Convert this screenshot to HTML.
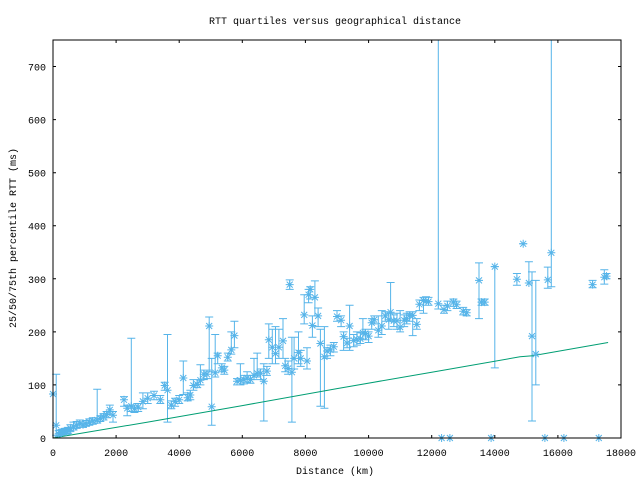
<!DOCTYPE html>
<html><head><meta charset="utf-8"><style>
body{margin:0;background:#fff}
svg text{font-family:"Liberation Mono","DejaVu Sans Mono",monospace;font-size:10px;fill:#000}
</style></head><body>
<svg id="s" width="640" height="480" xmlns="http://www.w3.org/2000/svg">
<rect width="640" height="480" fill="#fff"/>
<defs><g id="st" stroke="#56b4e9" stroke-width="1"><path d="M-4,0H4M0,-4V4M-3,-3L3,3M-3,3L3,-3"/></g></defs>
<g id="eb" stroke="#56b4e9" stroke-width="1" fill="none"></g>
<path id="ln" stroke="#009e73" stroke-width="1" fill="none"/>
<g id="pts"></g>
<g id="ax" stroke="#000" stroke-width="1" fill="none"></g>
<g id="lb"></g>
<text x="335" y="24" text-anchor="middle">RTT quartiles versus geographical distance</text>
<text x="335" y="474" text-anchor="middle">Distance (km)</text>
<text transform="translate(16,238) rotate(-90)" text-anchor="middle">25/50/75th percentile RTT (ms)</text>
</svg>
<script>
var X0=53,X1=621,Y0=438,YT=40;
function px(d){return X0+d*(X1-X0)/18000}
function py(v){return Y0-v*0.5307}
var D=[[0,83],[100,24,5,120],[180,8,3,14],[230,10,5,15],[280,11,6,16],[330,12,7,17],[380,13,8,18],[430,12,7,17],[480,14,9,20],[550,18,12,25],[650,21,15,30],[750,24,18,31],[850,27,20,34],[950,25,20,30],[1050,27,22,33],[1150,30,24,36],[1260,32,26,38],[1400,34,28,92],[1500,37,31,42],[1600,40,34,46],[1700,44,38,50],[1800,53,45,62],[1900,43,30,50],[2250,72,60,78],[2350,56,42,62],[2480,60,50,188],[2580,55,48,62],[2700,58,50,65],[2850,69,55,85],[3000,75,65,85],[3200,80,72,88],[3400,72,65,80],[3540,99,90,105],[3630,90,30,195],[3750,62,55,70],[3870,69,60,75],[4000,72,65,80],[4130,113,82,145],[4270,76,70,85],[4350,81,72,90],[4450,99,90,110],[4570,101,95,110],[4670,109,100,138],[4780,120,110,128],[4880,120,112,128],[4950,211,125,228],[5030,59,24,150],[5140,123,115,195],[5220,155,140,160],[5350,132,125,140],[5430,128,120,135],[5540,152,145,160],[5650,166,158,200],[5750,193,170,220],[5830,107,100,112],[5940,109,100,140],[6050,110,102,118],[6150,113,105,125],[6260,110,103,118],[6370,118,110,150],[6470,122,115,160],[6580,122,110,130],[6680,107,32,140],[6780,126,118,135],[6840,185,150,215],[6950,171,140,205],[7050,159,140,210],[7160,171,150,205],[7290,183,150,225],[7360,136,125,150],[7450,131,120,145],[7570,124,30,190],[7640,150,130,190],[7780,161,140,200],[7850,150,135,165],[7500,289,280,298],[7960,232,215,270],[8050,145,130,170],[8100,270,255,280],[8150,280,262,285],[8220,212,190,230],[8300,265,230,296],[8400,230,210,245],[8474,178,60,205],[8600,153,56,210],[8684,164,150,170],[8790,166,155,175],[8900,172,162,180],[9000,229,220,240],[9130,222,210,230],[9210,191,165,200],[9320,179,170,188],[9400,211,165,250],[9530,184,172,195],[9630,186,175,200],[9740,187,178,198],[9820,198,185,225],[9900,197,185,205],[10000,192,180,200],[10100,217,205,225],[10180,223,215,230],[10310,203,190,230],[10420,211,195,240],[10530,230,220,238],[10640,223,205,235],[10700,237,220,293],[10800,221,210,232],[10900,221,205,235],[11000,209,200,240],[11130,222,210,232],[11210,225,215,235],[11300,231,220,238],[11400,231,193,238],[11530,214,205,225],[11610,252,240,260],[11740,259,235,265],[11820,258,250,266],[11900,257,250,265],[12210,253,243,760],[12390,242,235,250],[12500,249,240,258],[12690,256,248,262],[12790,251,244,258],[13000,239,232,246],[13110,236,230,242],[13500,297,225,330],[13580,256,250,262],[13680,256,250,262],[14000,323,132,323],[14700,299,288,310],[14900,366,366,366],[15080,292,292,332],[15180,192,32,313],[15300,158,100,297],[15680,298,282,322],[15790,349,285,760],[17100,289,283,297],[17470,303,290,317],[17540,305,300,310],[12316,0],[12579,0],[13884,0],[15589,0],[16189,0],[17295,0]];
var eb='',pts='';
D.forEach(function(d){var x=px(d[0]).toFixed(1),y=py(d[1]).toFixed(1);
if(d.length>2){var lo=py(d[2]),hi=Math.max(py(d[3]),YT);eb+='M'+x+','+lo.toFixed(1)+'V'+hi.toFixed(1);
eb+='M'+(x-4)+','+lo.toFixed(1)+'h8';if(py(d[3])>YT)eb+='M'+(x-4)+','+hi.toFixed(1)+'h8';}
pts+='<use href="#st" x="'+x+'" y="'+y+'"/>';});
document.getElementById('eb').innerHTML='<path d="'+eb+'"/>';
document.getElementById('pts').innerHTML=pts;
var L=[[0,0],[3000,30],[6000,61],[9000,93],[12000,124],[14800,153],[15200,155],[17590,180]];
document.getElementById('ln').setAttribute('d','M'+L.map(function(p){return px(p[0]).toFixed(1)+','+py(p[1]).toFixed(1)}).join('L'));
var a='M'+X0+','+YT+'H'+X1+'V'+Y0+'H'+X0+'Z',lb='';
for(var v=0;v<=700;v+=100){var y=py(v).toFixed(1);a+='M'+X0+','+y+'h3M'+X1+','+y+'h-3';lb+='<text x="46" y="'+(+y+4)+'" text-anchor="end">'+v+'</text>';}
for(var k=0;k<=18000;k+=2000){var x=px(k).toFixed(1);a+='M'+x+','+Y0+'v-3M'+x+','+YT+'v3';lb+='<text x="'+x+'" y="456" text-anchor="middle">'+k+'</text>';}
document.getElementById('ax').innerHTML='<path d="'+a+'"/>';
document.getElementById('lb').innerHTML=lb;
</script>
</body></html>
